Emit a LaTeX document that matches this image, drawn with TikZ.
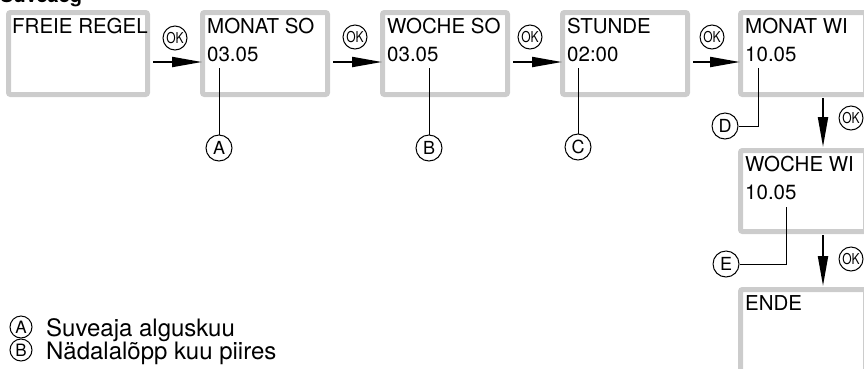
\documentclass[tikz,border=0pt]{standalone}
\usepackage{fontspec}
\setmainfont{TeX Gyre Heros}
\usetikzlibrary{arrows.meta}
\definecolor{boxgray}{HTML}{CCCCCC}
\tikzset{
  dispbox/.style={draw=boxgray, line width=5pt, rounded corners=2pt, inner sep=0pt, rectangle},
  disptext/.style={anchor=base west, inner sep=0pt, font=\fontsize{20.5}{24}\selectfont},
  arr/.style={line width=2pt, -{Triangle[length=30pt,width=10pt]}},
  okbtn/.style={circle, draw, line width=1pt, minimum size=24pt, inner sep=0pt,
    font=\fontsize{15}{15}\selectfont},
  callout/.style={circle, draw, line width=1pt, minimum size=26pt, inner sep=0pt,
    font=\fontsize{18}{18}\selectfont},
  legcirc/.style={circle, draw, line width=1pt, minimum size=22pt, inner sep=0pt,
    font=\fontsize{17}{17}\selectfont},
  legtext/.style={anchor=base west, inner sep=0pt, font=\fontsize{24}{26}\selectfont},
  lead/.style={line width=1pt}
}
\newcommand{\okmark}{\scalebox{0.8}[1]{OK}}
\begin{document}
\begin{tikzpicture}[x=1pt,y=-1pt]
\useasboundingbox (0,0) rectangle (864,368);
\clip (0,0) rectangle (864,368);
% heading (cut off at top)
\node[anchor=base west, inner sep=0pt, font=\fontsize{20}{24}\selectfont\bfseries] (title) at (0,2) {Suveaeg};
% boxes
\node[dispbox, minimum width=139pt, minimum height=82pt] (b1) at (78,53.5) {};
\node[dispbox, minimum width=125pt, minimum height=82pt] (b2) at (265,53.5) {};
\node[dispbox, minimum width=125pt, minimum height=82pt] (b3) at (445,53.5) {};
\node[dispbox, minimum width=125pt, minimum height=82pt] (b4) at (625,53.5) {};
\node[dispbox, minimum width=125pt, minimum height=82pt] (b5) at (803,53.5) {};
\node[dispbox, minimum width=125pt, minimum height=81pt] (b6) at (803,191) {};
\node[dispbox, minimum width=125pt, minimum height=83pt] (b7) at (803,331) {};
% texts
\node[disptext] (t1) at (12,33) {FREIE REGEL};
\node[disptext] (t2a) at (207,33) {MONAT SO};
\node[disptext] (t2b) at (207,61) {03.05};
\node[disptext] (t3a) at (387,33) {WOCHE SO};
\node[disptext] (t3b) at (387,61) {03.05};
\node[disptext] (t4a) at (567,33) {STUNDE};
\node[disptext] (t4b) at (567,61) {02:00};
\node[disptext] (t5a) at (745,33) {MONAT WI};
\node[disptext] (t5b) at (745,61) {10.05};
\node[disptext] (t6a) at (745,171) {WOCHE WI};
\node[disptext] (t6b) at (745,199) {10.05};
\node[disptext] (t7) at (745,310) {ENDE};
% arrows
\draw[arr] ([xshift=3pt,yshift=-8.5pt]b1.east) -- ([xshift=2pt,yshift=-8.5pt]b2.west);
\draw[arr] ([xshift=3pt,yshift=-8.5pt]b2.east) -- ([xshift=2pt,yshift=-8.5pt]b3.west);
\draw[arr] ([xshift=3pt,yshift=-8.5pt]b3.east) -- ([xshift=2pt,yshift=-8.5pt]b4.west);
\draw[arr] ([xshift=3pt,yshift=-8.5pt]b4.east) -- ([xshift=2pt,yshift=-8.5pt]b5.west);
\draw[arr] ([xshift=20pt,yshift=-1pt]b5.south) -- ([xshift=20pt,yshift=1pt]b6.north);
\draw[arr] ([xshift=20pt,yshift=-1pt]b6.south) -- ([xshift=20pt,yshift=1pt]b7.north);
% OK buttons
\node[okbtn] (ok1) at (175,38) {\okmark};
\node[okbtn] (ok2) at (355,37) {\okmark};
\node[okbtn] (ok3) at (530,37) {\okmark};
\node[okbtn] (ok4) at (712,37) {\okmark};
\node[okbtn] (ok5) at (851,118) {\okmark};
\node[okbtn] (ok6) at (851,259) {\okmark};
% callouts
\node[callout] (A) at (219,148) {A};
\node[callout] (B) at (429,148) {B};
\node[callout] (C) at (578,147) {C};
\node[callout] (D) at (725,126) {D};
\node[callout] (E) at (726,264) {E};
\coordinate (a0) at (219,68);
\coordinate (bb0) at (429,68);
\coordinate (c0) at (578,68);
\coordinate (d0) at (758,68);
\coordinate (e0) at (786,207);
\draw[lead] (a0) -- (A);
\draw[lead] (bb0) -- (B);
\draw[lead] (c0) -- (C);
\draw[lead] (d0) |- (D);
\draw[lead] (e0) |- (E);
% legend
\node[legcirc] (lA) at (21,327) {A};
\node[legtext] (lAt) at (46,336) {Suveaja alguskuu};
\node[legcirc] (lB) at (21,350) {B};
\node[legtext] (lBt) at (46,359) {Nädalalõpp kuu piires};
\end{tikzpicture}
\end{document}
